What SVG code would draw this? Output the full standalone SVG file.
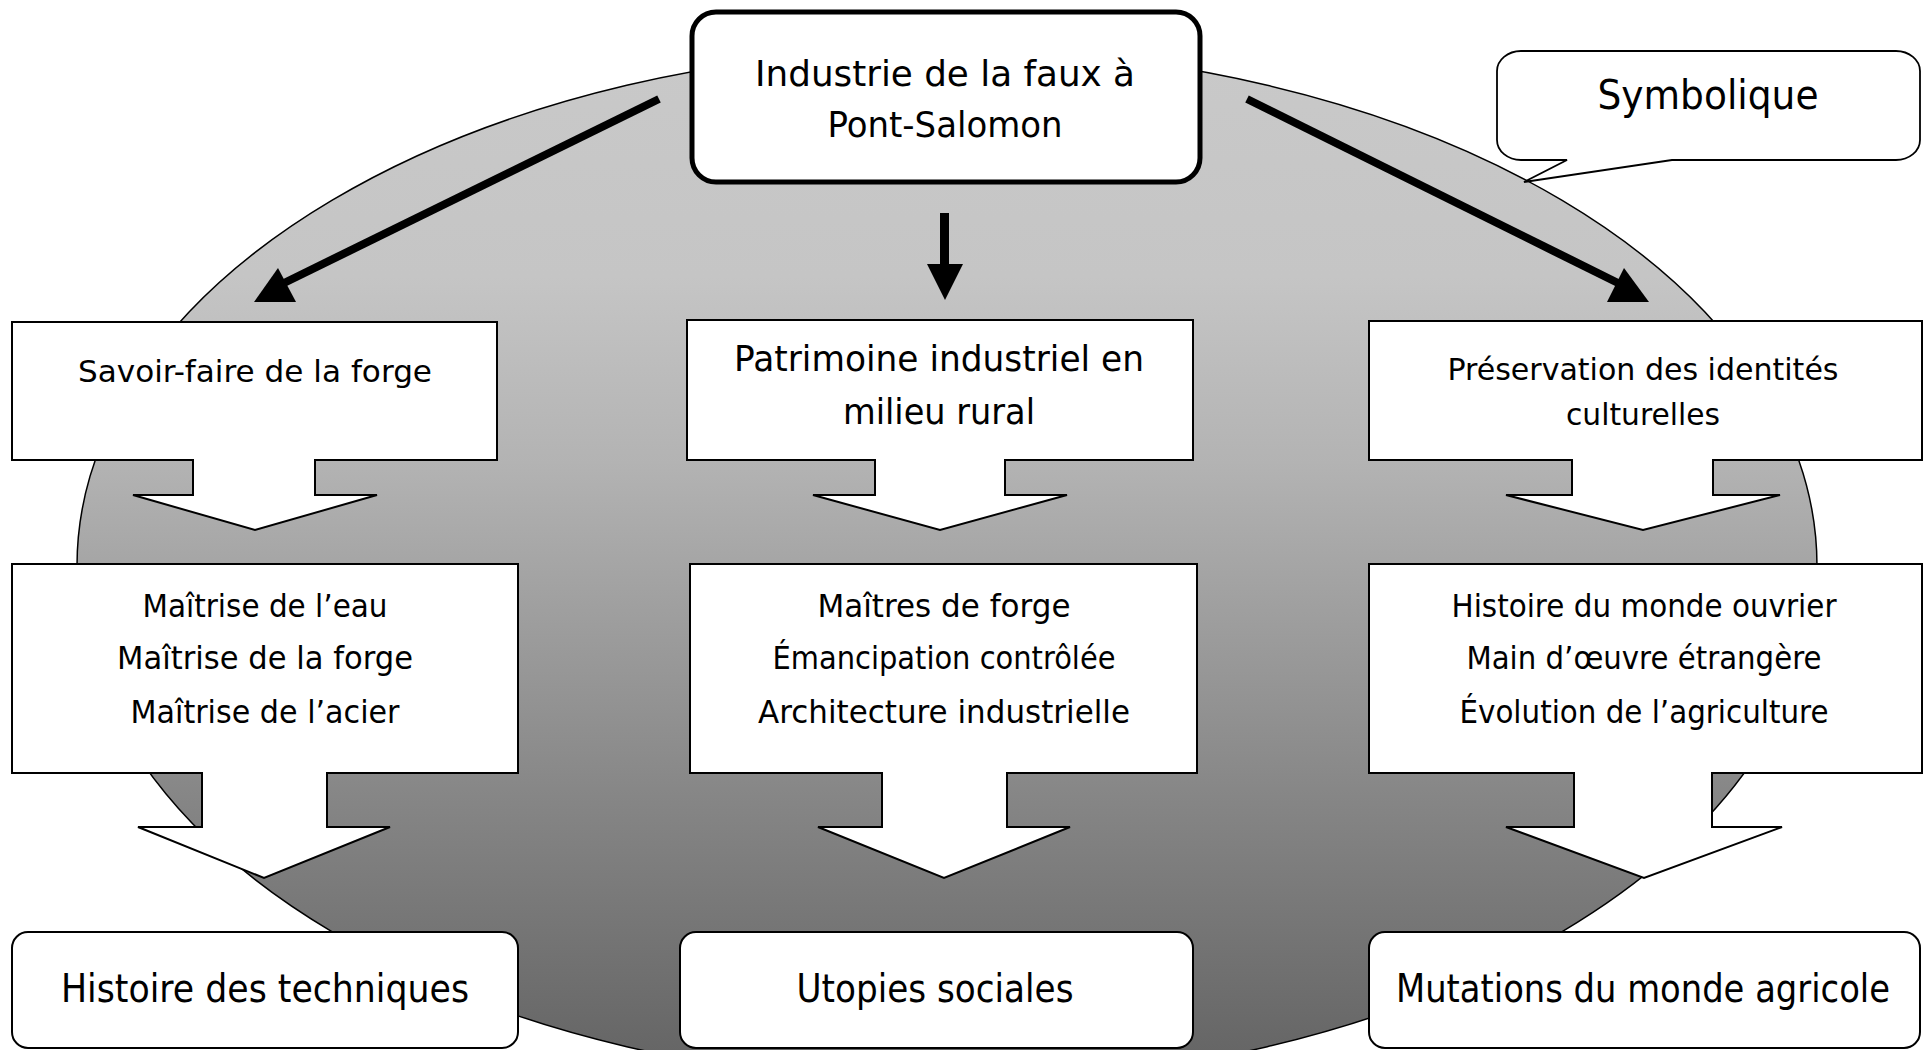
<svg xmlns="http://www.w3.org/2000/svg" width="1928" height="1050" viewBox="0 0 1928 1050">
<defs>
<linearGradient id="bg" gradientUnits="userSpaceOnUse" x1="0" y1="49" x2="0" y2="1083">
<stop offset="0" stop-color="#c9c9c9"/>
<stop offset="0.22" stop-color="#c5c5c5"/>
<stop offset="0.4" stop-color="#b3b3b3"/>
<stop offset="0.73" stop-color="#858585"/>
<stop offset="1" stop-color="#626262"/>
</linearGradient>
<style>
text{font-family:"DejaVu Sans","Liberation Sans",sans-serif;fill:#000;text-anchor:middle}
.box{fill:#fff;stroke:#000;stroke-width:2}
.blk{fill:#fff;stroke:#000;stroke-width:2;stroke-linejoin:miter}
.ln{stroke:#000;stroke-width:8;fill:none}
.hd{fill:#000}
.t31{font-size:31px}.t32{font-size:32px}.t36{font-size:36px}.t39{font-size:39px}.t40{font-size:40px}
</style>
</defs>
<rect width="1928" height="1050" fill="#fff"/>
<ellipse id="background" cx="947" cy="566" rx="870" ry="517" fill="url(#bg)" stroke="#000" stroke-width="1.5"/>

<g id="symbolique">
<path d="M1521,51 H1896 A24,20 0 0 1 1920,71 V140 A24,20 0 0 1 1896,160 H1672 L1524,182 L1567,160 H1521 A24,20 0 0 1 1497,140 V71 A24,20 0 0 1 1521,51 Z" fill="#fff" stroke="#000" stroke-width="1.8"/>
<text class="t40" x="1708" y="109" textLength="221" lengthAdjust="spacingAndGlyphs">Symbolique</text>
</g>

<g id="industrie">
<rect x="692" y="12" width="508" height="170" rx="24" fill="#fff" stroke="#000" stroke-width="5"/>
<text class="t36" x="945" y="86" textLength="380" lengthAdjust="spacingAndGlyphs">Industrie de la faux à</text>
<text class="t36" x="945" y="137" textLength="235" lengthAdjust="spacingAndGlyphs">Pont-Salomon</text>
</g>

<g id="savoir-faire">
<rect class="box" x="12" y="322" width="485" height="138"/>
<text class="t31" x="255" y="382" textLength="354" lengthAdjust="spacingAndGlyphs">Savoir-faire de la forge</text>
</g>
<g id="patrimoine">
<rect class="box" x="687" y="320" width="506" height="140"/>
<text class="t36" x="939" y="371" textLength="410" lengthAdjust="spacingAndGlyphs">Patrimoine industriel en</text>
<text class="t36" x="939" y="424" textLength="192" lengthAdjust="spacingAndGlyphs">milieu rural</text>
</g>
<g id="preservation">
<rect class="box" x="1369" y="321" width="553" height="139"/>
<text class="t31" x="1643" y="380" textLength="391" lengthAdjust="spacingAndGlyphs">Préservation des identités</text>
<text class="t31" x="1643" y="425" textLength="154" lengthAdjust="spacingAndGlyphs">culturelles</text>
</g>

<g id="maitrise">
<rect class="box" x="12" y="564" width="506" height="209"/>
<text class="t32" x="265" y="617" textLength="245" lengthAdjust="spacingAndGlyphs">Maîtrise de l’eau</text>
<text class="t32" x="265" y="669" textLength="296" lengthAdjust="spacingAndGlyphs">Maîtrise de la forge</text>
<text class="t32" x="265" y="723" textLength="269" lengthAdjust="spacingAndGlyphs">Maîtrise de l’acier</text>
</g>
<g id="maitres">
<rect class="box" x="690" y="564" width="507" height="209"/>
<text class="t32" x="944" y="617" textLength="253" lengthAdjust="spacingAndGlyphs">Maîtres de forge</text>
<text class="t32" x="944" y="669" textLength="343" lengthAdjust="spacingAndGlyphs">Émancipation contrôlée</text>
<text class="t32" x="944" y="723" textLength="372" lengthAdjust="spacingAndGlyphs">Architecture industrielle</text>
</g>
<g id="histoire-ouvrier">
<rect class="box" x="1369" y="564" width="553" height="209"/>
<text class="t32" x="1644" y="617" textLength="385" lengthAdjust="spacingAndGlyphs">Histoire du monde ouvrier</text>
<text class="t32" x="1644" y="669" textLength="355" lengthAdjust="spacingAndGlyphs">Main d’œuvre étrangère</text>
<text class="t32" x="1644" y="723" textLength="369" lengthAdjust="spacingAndGlyphs">Évolution de l’agriculture</text>
</g>

<g id="techniques">
<rect class="box" x="12" y="932" width="506" height="116" rx="16"/>
<text class="t39" x="265" y="1002" textLength="408" lengthAdjust="spacingAndGlyphs">Histoire des techniques</text>
</g>
<g id="utopies">
<rect class="box" x="680" y="932" width="513" height="116" rx="16"/>
<text class="t39" x="935" y="1002" textLength="277" lengthAdjust="spacingAndGlyphs">Utopies sociales</text>
</g>
<g id="mutations">
<rect class="box" x="1369" y="932" width="551" height="116" rx="16"/>
<text class="t39" x="1643" y="1002" textLength="494" lengthAdjust="spacingAndGlyphs">Mutations du monde agricole</text>
</g>

<g id="connectors">
<line class="ln" x1="659" y1="99" x2="282" y2="284"/>
<polygon class="hd" points="278,268 254,302 296,302"/>
<line class="ln" x1="1247" y1="99" x2="1620" y2="284"/>
<polygon class="hd" points="1624,268 1607,302 1649,302"/>
<rect class="hd" x="940" y="213" width="9" height="52"/>
<polygon class="hd" points="927,264 963,264 945,300"/>

<path class="blk" d="M193,459 V495 H133 L255,530 L377,495 H315 V459"/>
<path class="blk" d="M875,459 V495 H813 L940,530 L1067,495 H1005 V459"/>
<path class="blk" d="M1572,459 V495 H1506 L1643,530 L1780,495 H1713 V459"/>

<path class="blk" d="M202,772 V827 H138 L264,878 L390,827 H327 V772"/>
<path class="blk" d="M882,772 V827 H818 L944,878 L1070,827 H1007 V772"/>
<path class="blk" d="M1574,772 V827 H1506 L1644,878 L1782,827 H1712 V772"/>
</g>
</svg>
